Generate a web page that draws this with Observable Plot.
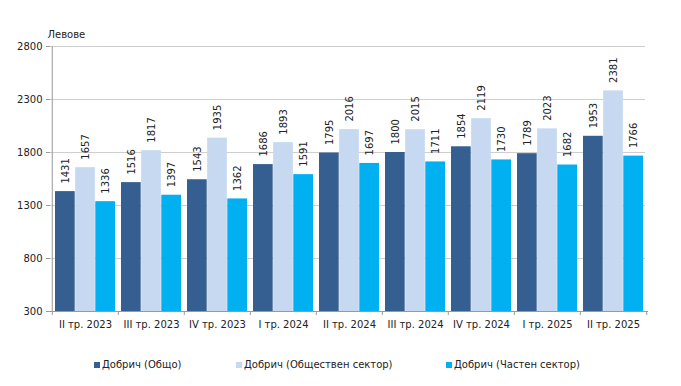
<!DOCTYPE html>
<html>
<head>
<meta charset="utf-8">
<script src="https://cdn.jsdelivr.net/npm/d3@7"></script>
<script src="https://cdn.jsdelivr.net/npm/@observablehq/plot@0.6"></script>
<style>
  html, body { margin: 0; padding: 0; background: #fff; }
  body { width: 681px; height: 386px; overflow: hidden; font-family: "DejaVu Sans", Verdana, sans-serif; }
  #legend { position: relative; height: 46px; font-size: 10px; color: #222; }
  .item { position: absolute; top: 19px; display: flex; align-items: center; white-space: nowrap; }
  .sw { width: 6px; height: 6px; margin-right: 2px; }
</style>
</head>
<body>
<div id="chart"></div>
<div id="legend"></div>
<script>
const quarters = ["II тр. 2023", "III тр. 2023", "IV тр. 2023", "I тр. 2024", "II тр. 2024", "III тр. 2024", "IV тр. 2024", "I тр. 2025", "II тр. 2025"];
const seriesNames = ["Добрич (Общо)", "Добрич (Обществен сектор)", "Добрич (Частен сектор)"];
const total   = [1431, 1516, 1543, 1686, 1795, 1800, 1854, 1789, 1953];
const publicS = [1657, 1817, 1935, 1893, 2016, 2015, 2119, 2023, 2381];
const privateS = [1336, 1397, 1362, 1591, 1697, 1711, 1730, 1682, 1766];
const yTicks = [300, 800, 1300, 1800, 2300, 2800];
const yLabel = "Левове";
const colors = ["#365f91", "#c6d9f1", "#00b0f0"];
const legendX = [94, 236, 446];

const seriesValues = [total, publicS, privateS];
const data = [];
seriesValues.forEach((vals, s) => vals.forEach((v, i) => data.push({quarter: quarters[i], series: s, value: v})));

const W = 681, H = 340;
const mL = 50, mR = 33, mT = 46, mB = 29;
const step = (W - mL - mR) / quarters.length;
const pad = 3;
const bw = (step - 2 * pad) / 3;

const marks = [];
// gridlines
marks.push(Plot.ruleY(yTicks.slice(1), {stroke: "#cfcfcf", insetRight: 3}));
// bars
for (let s = 0; s < 3; s++) {
  const d = data.filter(r => r.series === s);
  marks.push(Plot.barY(d, {
    x: "quarter", y1: 300, y2: "value", fill: colors[s],
    insetLeft: pad + s * bw, insetRight: pad + (2 - s) * bw
  }));
  marks.push(Plot.text(d, {
    x: "quarter", y: "value", text: r => String(r.value),
    rotate: -90, textAnchor: "start", dx: (s - 1) * bw, dy: -8,
    fill: "#222", fontSize: 10
  }));
}
// axes lines
marks.push(Plot.ruleY([300], {stroke: "#999"}));
marks.push(Plot.ruleX([quarters[0]], {x: d => d, dx: -step / 2, y1: 300, y2: 2800, stroke: "#999"}));
// y axis
marks.push(Plot.axisY({ticks: yTicks, tickFormat: d => String(d), tickSize: 4, tickPadding: 4, stroke: "#999", fill: "#222", fontSize: 10, label: null}));
marks.push(Plot.text([yLabel], {text: d => d, frameAnchor: "top-left", textAnchor: "start", dx: -3, dy: -16, fill: "#222", fontSize: 10}));
// x axis labels
marks.push(Plot.axisX({tickSize: 0, tickPadding: 9, fill: "#222", fontSize: 10, label: null}));
// x boundary ticks
marks.push(Plot.axisX({tickSize: 4, tickFormat: () => "", dx: -step / 2, stroke: "#999", label: null}));
marks.push(Plot.axisX({ticks: [quarters[quarters.length - 1]], tickSize: 4, tickFormat: () => "", dx: step / 2, stroke: "#999", label: null}));

const chart = Plot.plot({
  width: W, height: H,
  marginLeft: mL, marginRight: mR, marginTop: mT, marginBottom: mB,
  style: {fontFamily: "DejaVu Sans, Verdana, sans-serif", fontSize: "10px", color: "#222", background: "#fff"},
  x: {type: "band", domain: quarters, paddingInner: 0, paddingOuter: 0, axis: null},
  y: {domain: [300, 2800], axis: null},
  marks
});
document.getElementById("chart").appendChild(chart);

const legend = document.getElementById("legend");
seriesNames.forEach((name, s) => {
  const it = document.createElement("div");
  it.className = "item";
  it.style.left = legendX[s] + "px";
  const sw = document.createElement("span");
  sw.className = "sw";
  sw.style.background = colors[s];
  const tx = document.createElement("span");
  tx.textContent = name;
  it.appendChild(sw); it.appendChild(tx);
  legend.appendChild(it);
});
</script>
</body>
</html>
